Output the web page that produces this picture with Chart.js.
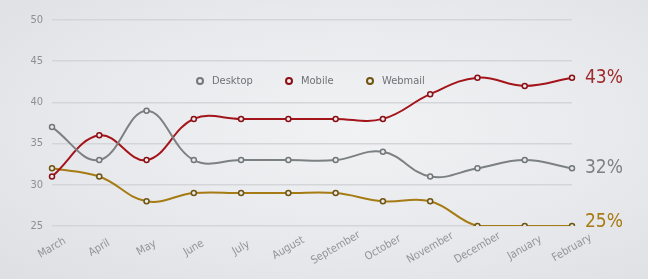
<!DOCTYPE html>
<html>
<head>
<meta charset="utf-8">
<style>
  html, body { margin: 0; padding: 0; }
  body {
    width: 648px; height: 279px; overflow: hidden;
    background: radial-gradient(ellipse at 55% 45%, #f1f2f4 0%, #e8e9ec 55%, #dddfe3 100%);
  }
  #wrap { position: relative; width: 648px; height: 279px; }
</style>
<script src="https://cdn.jsdelivr.net/npm/chart.js@4.4.0/dist/chart.umd.min.js"></script>
</head>
<body>
<div id="wrap"><canvas id="usage" width="648" height="279"></canvas></div>
<script>
const months = ["March", "April", "May", "June", "July", "August", "September", "October", "November", "December", "January", "February"];
const desktop = [37, 33, 39, 33, 33, 33, 33, 34, 31, 32, 33, 32];
const mobile  = [31, 36, 33, 38, 38, 38, 38, 38, 41, 43, 42, 43];
const webmail = [32, 31, 28, 29, 29, 29, 29, 28, 28, 25, 25, 25];
const yMin = 25, yMax = 50, yStep = 5;

const labelFont = '"DejaVu Sans Condensed", "Liberation Sans Narrow", "Roboto", sans-serif';

// rotated month names, centred on each tick
const monthLabels = {
    id: 'monthLabels',
    afterDraw(chart) {
        const ctx = chart.ctx;
        const x = chart.scales.x;
        const bottom = chart.chartArea.bottom;
        ctx.save();
        ctx.font = '11px ' + labelFont;
        ctx.fillStyle = '#909397';
        ctx.textAlign = 'center';
        ctx.textBaseline = 'middle';
        chart.data.labels.forEach((lab, i) => {
            ctx.save();
            ctx.translate(x.getPixelForValue(i), bottom + 22);
            ctx.rotate(-30 * Math.PI / 180);
            ctx.fillText(lab, 0, 0);
            ctx.restore();
        });
        ctx.restore();
    }
};

// legend sitting inside the plot
const innerLegend = {
    id: 'innerLegend',
    afterDatasetsDraw(chart) {
        const ctx = chart.ctx;
        const xs = [200, 289, 370];
        const y = 81;
        ctx.save();
        ctx.font = '11px ' + labelFont;
        ctx.textBaseline = 'middle';
        ctx.textAlign = 'left';
        chart.data.datasets.forEach((ds, i) => {
            ctx.beginPath();
            ctx.arc(xs[i], y, 3, 0, Math.PI * 2);
            ctx.fillStyle = '#eceef0';
            ctx.fill();
            ctx.lineWidth = 2;
            ctx.strokeStyle = ds.pointBorderColor;
            ctx.stroke();
            ctx.fillStyle = '#6f7276';
            ctx.fillText(ds.label, xs[i] + 12, y);
        });
        ctx.restore();
    }
};

// last value as a big percentage to the right
const endValues = {
    id: 'endValues',
    afterDatasetsDraw(chart) {
        const ctx = chart.ctx;
        ctx.save();
        ctx.font = '19px ' + labelFont;
        ctx.textBaseline = 'middle';
        ctx.textAlign = 'left';
        chart.data.datasets.forEach((ds, i) => {
            const meta = chart.getDatasetMeta(i);
            const pt = meta.data[meta.data.length - 1];
            ctx.fillStyle = ds.valueColor;
            ctx.fillText(ds.data[ds.data.length - 1] + '%', pt.x + 13, pt.y - (i === 2 ? 4 : 0));
        });
        ctx.restore();
    }
};

function series(label, data, line, point, valueColor) {
    return {
        label, data,
        borderColor: line,
        borderWidth: 2,
        tension: 0.4,
        fill: false,
        pointRadius: 2.5,
        pointBorderWidth: 1.5,
        pointBackgroundColor: '#e9eaed',
        pointBorderColor: point,
        valueColor
    };
}

new Chart(document.getElementById('usage'), {
    type: 'line',
    data: {
        labels: months,
        datasets: [
            series('Desktop', desktop, '#7b8082', '#72777a', '#7d8185'),
            series('Mobile', mobile, '#a3151b', '#8a1015', '#9f2a2c'),
            series('Webmail', webmail, '#a57b14', '#6f5412', '#a77a12')
        ]
    },
    options: {
        responsive: false,
        animation: false,
        layout: { padding: { left: 0, right: 76, top: 20, bottom: 45 } },
        plugins: { legend: { display: false }, tooltip: { enabled: false } },
        scales: {
            x: {
                offset: false,
                grid: { display: false },
                border: { display: false },
                ticks: { display: false }
            },
            y: {
                min: yMin, max: yMax,
                afterFit(scale) { scale.width = 52; },
                grid: { color: '#d3d5d9', lineWidth: 1.5, drawTicks: false },
                border: { display: false },
                ticks: {
                    stepSize: yStep,
                    padding: 9,
                    color: '#8c8f93',
                    font: { family: labelFont, size: 11 }
                }
            }
        }
    },
    plugins: [monthLabels, innerLegend, endValues]
});
</script>
</body>
</html>
